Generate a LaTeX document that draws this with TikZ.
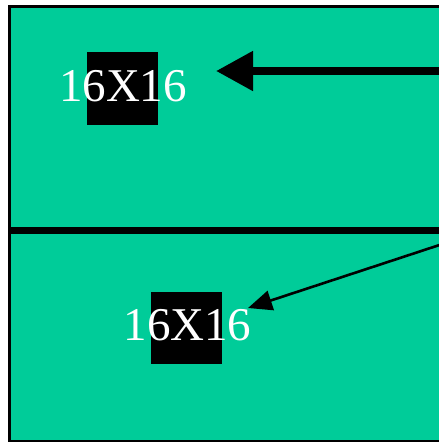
\documentclass[tikz,border=0pt]{standalone}
\usepackage{fontspec}
\setmainfont{Liberation Serif}
\usetikzlibrary{arrows.meta}
\definecolor{teal1}{RGB}{0,204,153}
\begin{document}
\begin{tikzpicture}[x=1pt,y=-1pt,
  blk/.style={fill=black, inner sep=0pt, minimum width=71pt, minimum height=73pt},
  lbl/.style={text=white, inner sep=0pt, font=\fontsize{47}{50}\selectfont},
  thickarrow/.style={line width=8pt, -{Triangle[length=37pt,width=38pt]}},
  thinarrow/.style={line width=2.6pt, -{Triangle[length=24pt,width=20pt]}}]
\useasboundingbox (0,0) rectangle (439,442);
\fill[white] (0,0) rectangle (439,442);
\draw[fill=teal1, line width=3pt] (9,6.5) rectangle (445,441);
\draw[line width=7pt] (9,230.5) -- (445,230.5);
\node[blk] (s1) at (122.5,88.5) {};
\node[lbl] (t1) at (123,86) {16X16};
\node[blk, minimum height=72pt] (s2) at (186.5,328) {};
\node[lbl] (t2) at (187.5,325) {16X16};
\coordinate (a1) at (445,71);
\coordinate (b1) at (216,71);
\coordinate (a2) at (441,244.5);
\coordinate (b2) at (248,308);
\draw[thickarrow] (a1) -- (b1);
\draw[thinarrow] (a2) -- (b2);
\end{tikzpicture}
\end{document}
